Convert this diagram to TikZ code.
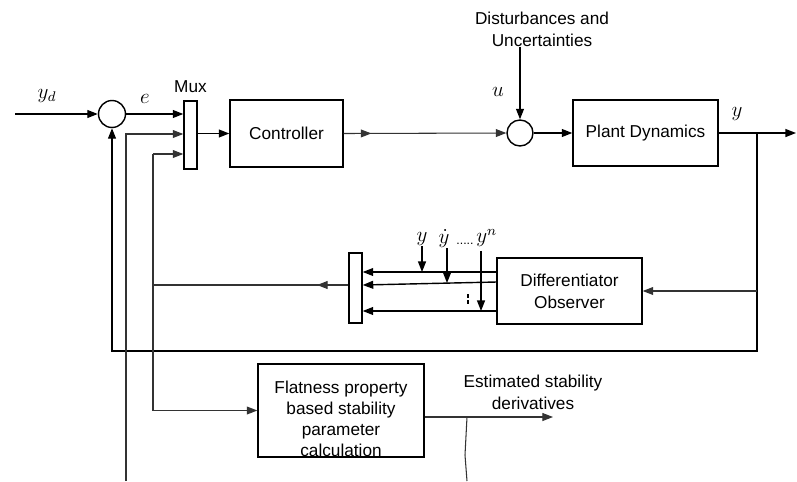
\documentclass[tikz,border=0pt]{standalone}
\usepackage{fontspec}
\setmainfont{Liberation Sans}
\usetikzlibrary{arrows.meta,positioning,decorations.markings}

\tikzset{
	block/.style={draw, line width=0.8pt, inner sep=0pt, align=center, font=\fontsize{9.8}{12.4}\selectfont},
	sumnode/.style={draw, circle, line width=0.8pt, minimum size=0.54cm, inner sep=0pt},
	muxbar/.style={draw, line width=0.8pt, minimum width=0.26cm, inner sep=0pt},
	lbl/.style={inner sep=0pt, align=center, font=\fontsize{9.8}{12.4}\selectfont},
	mathlbl/.style={inner sep=0pt, font=\fontsize{12}{14}\selectfont},
	sig/.style={line width=0.8pt, -{Triangle[length=6pt,width=4.5pt]}},
	thin/.style={line width=0.6pt, black!80},
	midarrow/.style={postaction={decorate}, decoration={markings,
		mark=at position #1 with {\arrow{Triangle[length=6pt,width=4.5pt]}}}},
}

\begin{document}
\begin{tikzpicture}[x=0.02cm, y=-0.02cm]
		\useasboundingbox (0,0) rectangle (797,481);
		
		% blocks
		\node[sumnode] (sum1) at (112,114) {};
		\node[muxbar, minimum height=1.36cm] (mux1) at (190.5,135) {};
		\node[lbl, above=4pt of mux1] (muxlbl) {Mux};
		\node[block, minimum width=2.26cm, minimum height=1.34cm] (ctrl) at (286.5,133.5) {Controller};
		\node[sumnode, minimum size=0.52cm] (sum2) at (520,133) {};
		\node[block, minimum width=2.9cm, minimum height=1.32cm] (plant) at (645.5,133) {Plant Dynamics};
		\node[block, minimum width=2.9cm, minimum height=1.32cm] (diff) at (569.5,291) {Differentiator\\Observer};
		\node[muxbar, minimum height=1.4cm] (mux2) at (355.5,288) {};
		\node[block, minimum width=3.32cm, minimum height=1.86cm] (flat) at (341,410.5) {};
		\node[lbl, font=\fontsize{9.8}{12}\selectfont] (flattxt) at (341,419) {Flatness property\\based stability\\parameter\\calculation};
		
		% labels
		\node[lbl] (disttxt) at (542,29) {Disturbances and\\Uncertainties};
		\node[lbl] (esttxt) at (533,392) {Estimated stability\\derivatives};
		\node[mathlbl] (ydlbl) at (47,96) {$y_{d}$};
		\node[mathlbl] (elbl) at (145,99) {$e$};
		\node[mathlbl] (ulbl) at (498,92) {$u$};
		\node[mathlbl] (ylbl) at (737,114) {$y$};
		\node[mathlbl] (ly1) at (422,239) {$y$};
		\node[mathlbl] (ly2) at (444,239) {$\dot{y}$};
		\node[mathlbl, font=\fontsize{7}{8}\selectfont] (ldots) at (465,244) {.....};
		\node[mathlbl, anchor=west] (lyn) at (476,238) {$y^{n}$};
		
		% forward path
		\coordinate (ydin) at (15,114);
		\draw[sig] (ydin) -- (sum1.west);
		\draw[sig] (sum1.east) -- (sum1.east -| mux1.west);
		\draw[sig] (mux1.east |- ctrl.west) -- (ctrl.west);
		\draw[sig, thin, midarrow=0.17] (ctrl.east) -- (sum2.west);
		\draw[sig] (disttxt.south -| sum2.north) -- (sum2.north);
		\draw[sig] (sum2.east) -- (plant.west);
		\coordinate (yout) at (796,133);
		\coordinate (ybr) at (757,133);
		\draw[sig] (plant.east) -- (yout);
		
		% feedback loop
		\coordinate (lpR) at (757,351);
		\draw[sig] (ybr) -- (lpR) -| (sum1.south);
		\draw[sig, thin] (ybr |- diff.east) -- (diff.east);
		
		% differentiator outputs
		\coordinate (o1) at ([yshift=0.38cm]diff.west);
		\coordinate (o2) at ([yshift=0.18cm]diff.west);
		\coordinate (o3) at ([yshift=-0.4cm]diff.west);
		\draw[sig] (o1) -- (o1 -| mux2.east);
		\draw[sig] (o2) -- ([yshift=0.06cm]mux2.east);
		\draw[sig] (o3) -- (o3 -| mux2.east);
		\draw[sig] (ly1.south) -- (ly1.south |- o1);
		\draw[sig] ([xshift=0.06cm]ly2.south) -- ([xshift=0.06cm,yshift=-0.02cm]ly2.south |- o2);
		\coordinate (ynx) at ([xshift=0.1cm,yshift=-2pt]lyn.south west);
		\draw[sig] (ynx) -- (ynx |- o3);
		\draw[dash pattern=on 2pt off 1.5pt, line width=0.7pt] (468,294) -- (468,305);
		
		% estimator paths
		\coordinate (v3top) at (153,154);
		\coordinate (v2bot) at (126,481);
		\draw[sig, thin] (v3top) -- (v3top -| mux1.west);
		\draw[thin, midarrow=0.16] ([yshift=0.06cm]mux2.west) -- ([yshift=0.06cm]mux2.west -| v3top);
		\draw[sig, thin] (v3top) |- (flat.west);
		\draw[sig, thin] (v2bot) |- ([yshift=0.02cm]mux1.west);
		\coordinate (estout) at (553,417);
		\draw[sig, thin] (flat.east |- estout) -- (estout);
		\draw[thin] (467,417) -- (465,455) -- (467,481);
	\end{tikzpicture}
\end{document}
